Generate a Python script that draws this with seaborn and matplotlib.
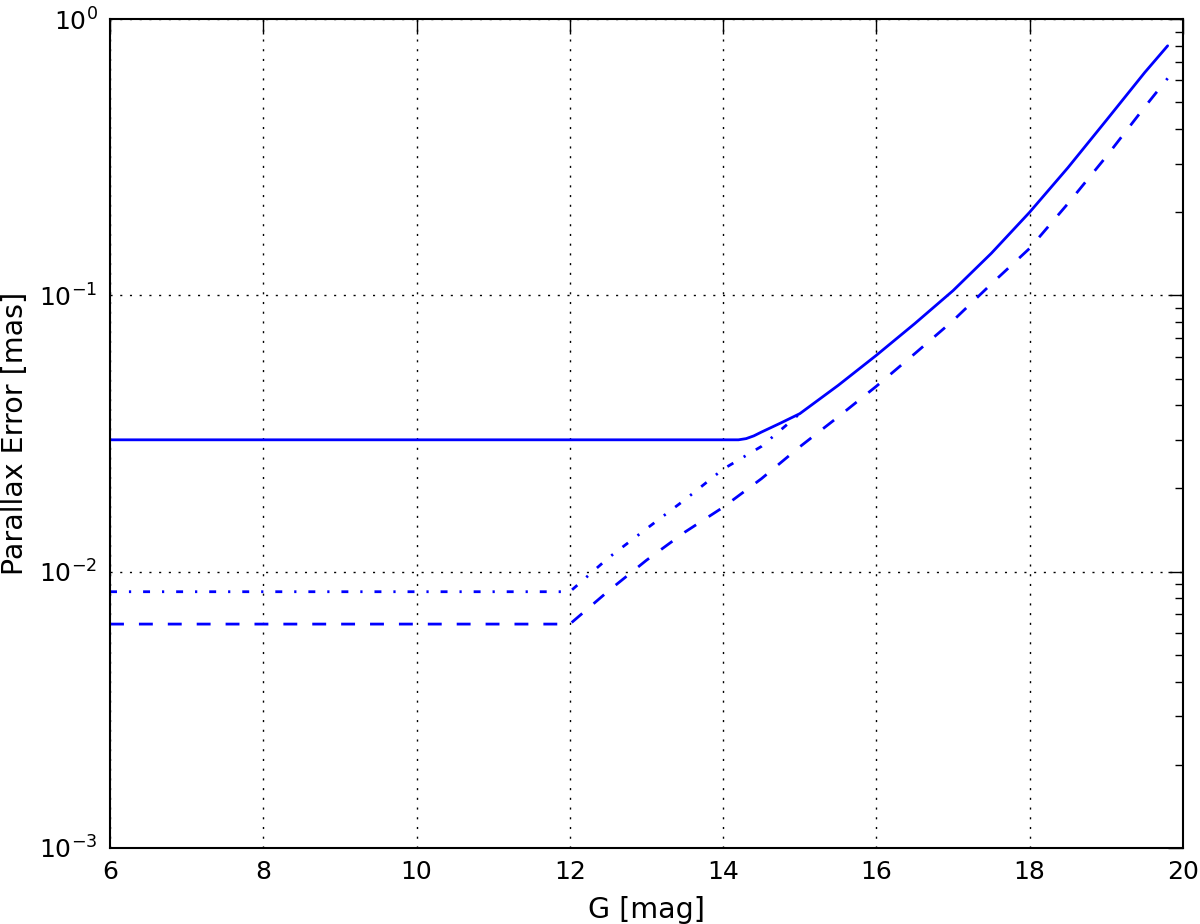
import matplotlib
matplotlib.use("Agg")
import matplotlib.pyplot as plt
import matplotlib.ticker as mticker
import seaborn as sns

# total parallax error (solid)
g_total = [6, 14.2, 14.3, 14.4, 14.5, 14.75, 15, 15.5, 16, 16.5, 17, 17.5, 18, 18.5, 19, 19.5, 19.8]
err_total = [0.0300, 0.0300, 0.0303, 0.0310, 0.0320, 0.0345, 0.0373, 0.0472, 0.0607, 0.0790, 0.104,
             0.142, 0.200, 0.290, 0.430, 0.640, 0.800]

# dash-dot series
g_dashdot = [6, 12, 12.5, 13, 13.5, 14, 14.5, 15]
err_dashdot = [0.00846, 0.00846, 0.0112, 0.0143, 0.0182, 0.0235, 0.0284, 0.0373]

# dashed series
g_dashed = [6, 12, 12.5, 13, 13.5, 14, 14.5, 15, 15.5, 16, 16.5, 17, 17.5, 18, 18.5, 19, 19.5, 19.8]
err_dashed = [0.00646, 0.00646, 0.0085, 0.0110, 0.0139, 0.0171, 0.0217, 0.0283, 0.0363, 0.0469,
              0.0615, 0.0810, 0.110, 0.148, 0.215, 0.318, 0.480, 0.610]

sns.set_theme(style="white", rc={
    "axes.edgecolor": "black",
    "axes.linewidth": 1.5,
    "axes.labelcolor": "black",
    "text.color": "black",
    "xtick.color": "black",
    "ytick.color": "black",
})
plt.rcParams["font.family"] = ["DejaVu Sans"]

fig, ax = plt.subplots(figsize=(12, 9.24), dpi=100)
fig.subplots_adjust(left=0.0917, right=0.9858, bottom=0.0823, top=0.9794)

sns.lineplot(x=g_total, y=err_total, ax=ax, color="blue", lw=2, estimator=None)
sns.lineplot(x=g_dashdot, y=err_dashdot, ax=ax, color="blue", lw=2, estimator=None)
ax.lines[-1].set_dashes((2.5, 4.3, 0.8, 4.3))
sns.lineplot(x=g_dashed, y=err_dashed, ax=ax, color="blue", lw=2, estimator=None)
ax.lines[-1].set_dashes((5.0, 5.4))

ax.set_yscale("log")
ax.set_xlim(6, 20)
ax.set_ylim(1e-3, 1)
ax.xaxis.set_major_locator(mticker.MultipleLocator(2))
ax.yaxis.set_major_locator(mticker.LogLocator(base=10))
ax.yaxis.set_minor_locator(mticker.LogLocator(base=10, subs=range(2, 10)))
ax.yaxis.set_minor_formatter(mticker.NullFormatter())

ax.grid(True, which="major", color="black", linestyle=(0, (1.5, 5.5)), linewidth=1)
ax.tick_params(which="both", direction="in", top=True, right=True, labelsize=18, pad=9)
ax.tick_params(which="major", length=11, width=1)
ax.tick_params(which="minor", length=5.5, width=1)

ax.set_xlabel("G [mag]", fontsize=20.5, labelpad=8)
ax.set_ylabel("Parallax Error [mas]", fontsize=20.5, labelpad=7)

fig.savefig("out.png", dpi=100)
